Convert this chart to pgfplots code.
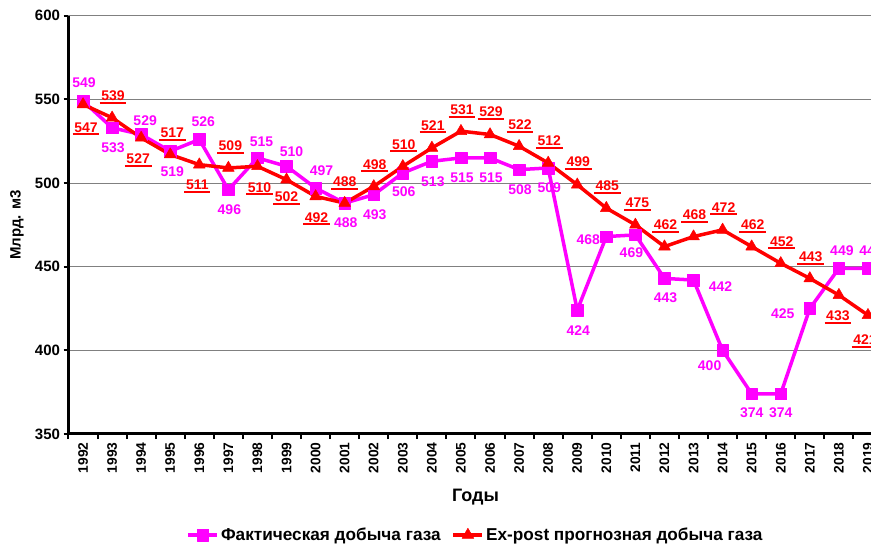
\documentclass[border=0pt]{standalone}
\usepackage{fontspec}
\setmainfont{Liberation Sans}
\usepackage{pgfplots}
\usepackage{pgfplotstable}
\pgfplotsset{compat=1.18}
\definecolor{mag}{RGB}{255,0,255}
\definecolor{rd}{RGB}{255,0,0}
\newsavebox\ulbox
\newcommand\ulnum[1]{\sbox\ulbox{#1}\rlap{\kern-1.7pt\rule[-3.3pt]{\dimexpr\wd\ulbox+3.4pt\relax}{2pt}}\usebox\ulbox}

\pgfplotstableread{
x y dx dy
1992 549 1 18
1993 533 1 -20
1994 529 4 14
1995 519 2 -20
1996 526 4 18
1997 496 1 -20
1998 515 4 16
1999 510 5 15
2000 497 6 17
2001 488 1 -20
2002 493 1 -20
2003 506 1 -19
2004 513 1 -20
2005 515 1 -20
2006 515 1 -20
2007 508 1 -20
2008 509 1 -20
2009 424 1 -20
2010 468 -18 -3
2011 469 -4 -18
2012 443 1 -19
2013 442 27 -7
2014 400 -13 -15
2015 374 0 -19
2016 374 0 -19
2017 425 -27 -5
2018 449 3 18
2019 449 3 18
}\fact

\pgfplotstableread{
x y dx dy
1992 547 3 -24.5
1993 539 1 20.5
1994 527 -3 -22.5
1995 517 2 20.5
1996 511 -2 -22
1997 509 2 20.5
1998 510 2 -22.5
1999 502 0 -19
2000 492 1 -22.5
2001 488 0 20
2002 498 1 20.5
2003 510 1 20.5
2004 521 1 21
2005 531 1 19.5
2006 529 1 21
2007 522 1 20
2008 512 1 20.5
2009 499 1 21
2010 485 1 20.5
2011 475 2 20.5
2012 462 1 20.5
2013 468 1 20
2014 472 1 21
2015 462 1 20.5
2016 452 1 20.5
2017 443 1 20
2018 433 -1 -22.5
2019 421 -3 -26
}\prog

\begin{document}
\begin{tikzpicture}
\begin{axis}[
  at={(68.5pt,110pt)}, anchor=south west,
  scale only axis, width=814pt, height=418.3pt,
  xmin=1991.5, xmax=2019.5, ymin=350, ymax=600,
  clip=false,
  axis x line*=bottom, axis y line*=left,
  axis line style={black, line width=3pt},
  /pgf/number format/assume math mode=true,
  /pgf/number format/1000 sep={},
  ytick={350,400,450,500,550,600},
  xtick={1991.5,1992.5,...,2019.5},
  x tick label as interval,
  xticklabels={1992,1993,1994,1995,1996,1997,1998,1999,2000,2001,2002,2003,2004,2005,2006,2007,2008,2009,2010,2011,2012,2013,2014,2015,2016,2017,2018,2019},
  tick align=outside,
  major tick length=5pt,
  tick style={black, line width=2pt},
  ymajorgrids,
  major grid style={gray, line width=1pt},
  xticklabel style={rotate=90, anchor=east, font=\fontsize{13.8}{15}\selectfont\bfseries},
  yticklabel style={font=\fontsize{15}{17}\selectfont\bfseries},
  xlabel={Годы},
  ylabel={Млрд. м3},
  every axis x label/.style={at={(axis description cs:0.5,0)}, yshift=-63pt, anchor=center, font=\fontsize{18}{20}\selectfont\bfseries},
  every axis y label/.style={at={(axis description cs:0,0.5)}, xshift=-51.5pt, rotate=90, anchor=center, font=\fontsize{15}{17}\selectfont\bfseries},
  legend style={at={(0.5,-0.2415)}, anchor=center, draw=none, fill=none,
    font=\fontsize{17.2}{19}\selectfont\bfseries,
    /tikz/every even column/.append style={column sep=9pt}},
  legend columns=2,
  legend image code/.code={\draw[mark repeat=2,mark phase=2] plot coordinates {(0pt,0pt) (14.5pt,0pt) (29pt,0pt)};},
]
\addplot[color=mag, line width=3.5pt, line join=round, mark=square*, mark size=5.8pt,
  mark options={solid, line width=0.5pt, fill=mag},
  visualization depends on={\thisrow{dx}\as\ldx},
  visualization depends on={\thisrow{dy}\as\ldy},
  nodes near coords={\pgfmathprintnumber{\pgfplotspointmeta}},
  every node near coord/.append style={anchor=center, xshift=\ldx pt, yshift=\ldy pt, text=mag, inner sep=0pt, font=\fontsize{14}{16}\selectfont\bfseries}
] table[x=x, y=y] {\fact};
\addlegendentry{Фактическая добыча газа}
\addplot[color=rd, line width=3.5pt, line join=round, mark=triangle*, mark size=6.8pt,
  mark options={solid, line width=0.5pt, fill=rd},
  visualization depends on={\thisrow{dx}\as\ldx},
  visualization depends on={\thisrow{dy}\as\ldy},
  nodes near coords={\ulnum{\pgfmathprintnumber{\pgfplotspointmeta}}},
  every node near coord/.append style={anchor=center, xshift=\ldx pt, yshift=\ldy pt, text=rd, inner sep=0pt, font=\fontsize{14}{16}\selectfont\bfseries}
] table[x=x, y=y] {\prog};
\addlegendentry{Ex-post прогнозная добыча газа}
\end{axis}
\pgfresetboundingbox
\useasboundingbox (0,0) rectangle (871pt,544pt);
\end{tikzpicture}
\end{document}
